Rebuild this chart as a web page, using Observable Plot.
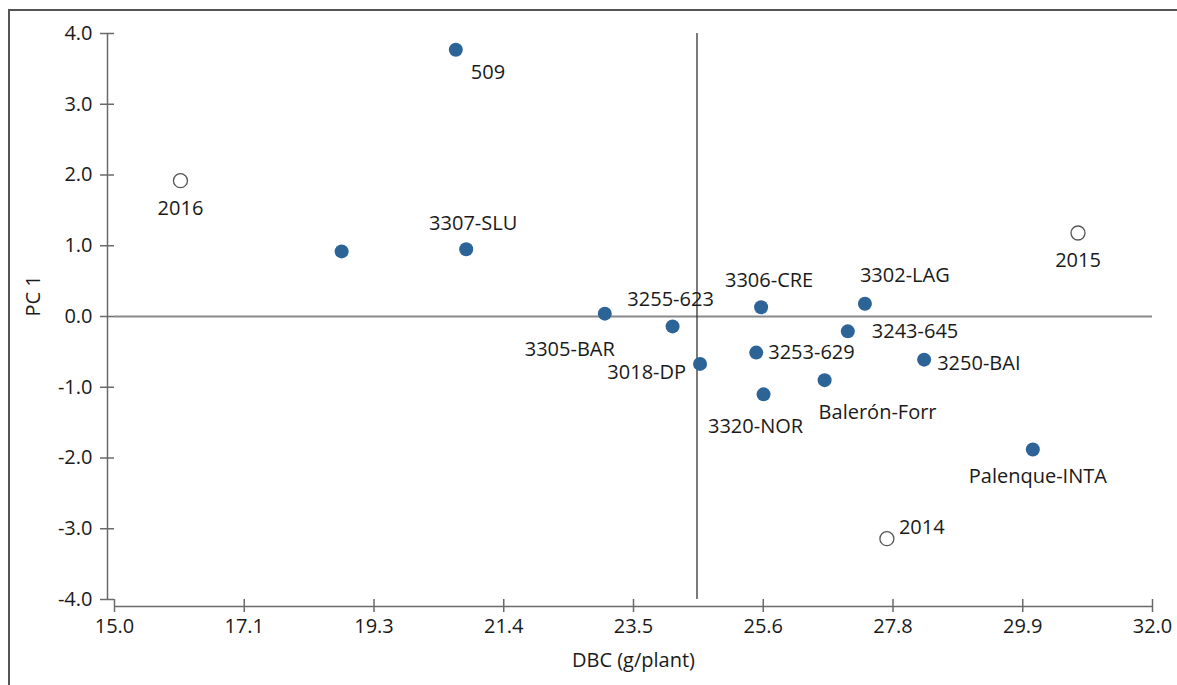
<!DOCTYPE html>
<html>
<head>
<meta charset="utf-8">
<script src="https://cdn.jsdelivr.net/npm/d3@7"></script>
<script src="https://cdn.jsdelivr.net/npm/@observablehq/plot@0.6"></script>
<style>
  html, body { margin: 0; padding: 0; background: #fff; overflow: hidden; }
  #wrap { position: relative; width: 1177px; height: 685px; overflow: hidden; }
  #topline { position: absolute; left: 8px; top: 9px; width: 1169px; height: 2px; background: #555; }
  #leftline { position: absolute; left: 8px; top: 9px; width: 2px; height: 676px; background: #555; }
  #chart { position: absolute; left: 0; top: 0; }
</style>
</head>
<body>
<div id="wrap"><div id="topline"></div><div id="leftline"></div><div id="chart"></div></div>
<script>
// Genotypes (filled dots)
const genotypes = ["509", "", "3307-SLU", "3305-BAR", "3255-623", "3018-DP", "3306-CRE",
  "3253-629", "3320-NOR", "Balerón-Forr", "3243-645", "3302-LAG", "3250-BAI", "Palenque-INTA"];
const genotypeDBC = [20.59, 18.72, 20.76, 23.03, 24.14, 24.59, 25.59, 25.51, 25.63, 26.63, 27.01, 27.29, 28.26, 30.04];
const genotypePC1 = [3.77, 0.92, 0.95, 0.04, -0.14, -0.67, 0.13, -0.51, -1.10, -0.90, -0.21, 0.18, -0.61, -1.88];

// Environments / years (open circles)
const years = ["2014", "2015", "2016"];
const yearDBC = [27.65, 30.78, 16.08];
const yearPC1 = [-3.14, 1.18, 1.92];

// Reference lines
const dbcMean = 24.54;
const pc1Ref = 0;

// Axis ticks
const xTicks = d3.range(0, 9).map(i => 15 + i * 17 / 8);
const yTicks = [-4, -3, -2, -1, 0, 1, 2, 3, 4];

// Label placement (layout only): [dx, dy, textAnchor]
const labelPlacement = {
  "509": [15, 23, "start"],
  "3307-SLU": [7, -26, "middle"],
  "3305-BAR": [10, 36, "end"],
  "3255-623": [-2, -27, "middle"],
  "3018-DP": [-14, 9, "end"],
  "3306-CRE": [8, -27, "middle"],
  "3253-629": [12, 0, "start"],
  "3320-NOR": [-8, 32, "middle"],
  "Balerón-Forr": [-6, 32, "start"],
  "3243-645": [24, 0, "start"],
  "3302-LAG": [-5, -28, "start"],
  "3250-BAI": [13, 4, "start"],
  "Palenque-INTA": [5, 27, "middle"],
  "2014": [12, -11, "start"],
  "2015": [0, 28, "middle"],
  "2016": [0, 28, "middle"]
};

const gen = genotypes.map((name, i) => ({name, x: genotypeDBC[i], y: genotypePC1[i]}));
const yrs = years.map((name, i) => ({name, x: yearDBC[i], y: yearPC1[i]}));
const labelled = [...gen.filter(d => d.name), ...yrs];

const axisColor = "#6a6a6a";
const textColor = "#1a1a1a";

// Plot.text dx/dy are constants, so one mark per label
const perLabel = labelled.map(d => {
  const [dx, dy, anchor] = labelPlacement[d.name];
  return Plot.text([d], {x: "x", y: "y", text: "name", dx, dy, textAnchor: anchor, fill: textColor});
});

const chart = Plot.plot({
  width: 1177,
  height: 685,
  marginLeft: 114,
  marginRight: 25,
  marginTop: 33,
  marginBottom: 86,
  style: {fontFamily: "'Open Sans', sans-serif", fontSize: "20px", color: textColor, background: "transparent"},
  x: {domain: [15, 32]},
  y: {domain: [-4, 4]},
  marks: [
    // reference lines
    Plot.ruleY([pc1Ref], {x1: 15, x2: 32, stroke: "#8a8a8a", strokeWidth: 2}),
    Plot.ruleX([dbcMean], {y1: -4, y2: 4, stroke: "#333", strokeWidth: 1.3}),
    // axis lines (offset like the original)
    Plot.ruleY([-4], {x1: 15, x2: 32, dy: 7, stroke: axisColor, strokeWidth: 1.5}),
    Plot.ruleX([15], {y1: -4, y2: 4, dx: -7, stroke: axisColor, strokeWidth: 1.5}),
    Plot.axisX({ticks: xTicks, tickFormat: d => d.toFixed(1), tickSize: 13, tickPadding: 6,
      stroke: axisColor, strokeWidth: 1.5, fill: textColor, label: null}),
    Plot.axisY({ticks: yTicks, tickFormat: d => d.toFixed(1), tickSize: 14, tickPadding: 8,
      stroke: axisColor, strokeWidth: 1.5, fill: textColor, label: null}),
    Plot.text(["DBC (g/plant)"], {frameAnchor: "bottom", dy: 67, fill: textColor}),
    Plot.text(["PC 1"], {frameAnchor: "left", dx: -81, rotate: -90, fill: textColor}),
    // points
    Plot.dot(gen, {x: "x", y: "y", r: 7, fill: "#2d6498", stroke: "none"}),
    Plot.dot(yrs, {x: "x", y: "y", r: 7, fill: "white", stroke: "#555", strokeWidth: 1.3}),
    ...perLabel
  ]
});
document.getElementById("chart").appendChild(chart);
</script>
</body>
</html>
